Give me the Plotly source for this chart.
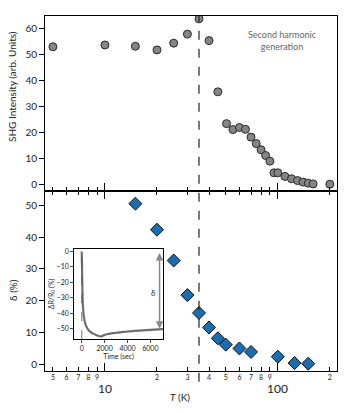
import math
import plotly.graph_objects as go

# top panel: SHG intensity vs temperature
shg_temp = [5, 10, 15, 20, 25, 30, 35, 40, 45, 50.5, 55, 60, 65, 70, 75, 80, 85, 90,
            95, 100, 110, 120, 130, 140, 150, 160, 200]
shg_int = [53.1, 53.8, 53.3, 51.9, 54.5, 58.0, 63.9, 55.5, 35.7, 23.4, 21.1, 21.9, 21.2,
           18.2, 15.7, 13.3, 11.1, 8.9, 4.4, 4.4, 3.0, 2.1, 1.4, 0.8, 0.4, 0.1, 0.0]

# bottom panel: delta vs temperature
delta_temp = [15, 20, 25, 30, 35, 40, 45, 50, 60, 70, 100, 125, 150]
delta_val = [50.5, 42.3, 32.6, 21.7, 16.1, 11.5, 8.1, 6.1, 4.9, 3.8, 2.3, 0.3, 0.1]

# inset: relaxation curve
inset_time = [0, 30, 60, 100, 150, 200, 300, 400, 600, 800, 1000, 1300, 1600, 1750,
              1900, 2200, 2600, 3000, 3500, 4000, 5000, 6000, 7000, 7200]
inset_val = [0, -12, -25, -35, -40, -43, -46.5, -48.5, -51, -52.3, -53.2, -54.2, -54.9,
             -55, -54.3, -53.6, -53, -52.6, -52.2, -51.8, -51.2, -50.7, -50.3, -50.2]

transition_temp = 35
delta_arrow = dict(time=6800, top=0, bottom=-50)

digit_ticks = [5, 6, 7, 8, 9, 20, 30, 40, 50, 60, 70, 80, 90, 200]
digit_text = ["5", "6", "7", "8", "9", "2", "3", "4", "5", "6", "7", "8", "9", "2"]
decade_ticks = [10, 100]

FONT = "Lato"
xrange_log = [math.log10(4.5), math.log10(220)]

fig = go.Figure()
fig.add_trace(go.Scatter(
    x=shg_temp, y=shg_int, mode="markers", xaxis="x", yaxis="y",
    marker=dict(symbol="circle", size=8, color="#858585",
                line=dict(color="#2b2b2b", width=1)),
))
fig.add_trace(go.Scatter(
    x=delta_temp, y=delta_val, mode="markers", xaxis="x2", yaxis="y2",
    marker=dict(symbol="diamond", size=10, color="#1a6db0",
                line=dict(color="#111111", width=1)),
))
fig.add_trace(go.Scatter(
    x=inset_time, y=inset_val, mode="lines", xaxis="x3", yaxis="y3",
    line=dict(color="#6e6e6e", width=2.2, shape="spline"),
))

xcommon = dict(
    type="log", range=xrange_log, tickmode="array", tickvals=digit_ticks,
    ticktext=digit_text, ticks="inside", ticklen=4, tickwidth=1, tickcolor="black",
    minor=dict(tickmode="array", tickvals=decade_ticks, ticks="inside", ticklen=8,
               tickwidth=1, tickcolor="black"),
    showline=True, linecolor="black", linewidth=1, showgrid=False, zeroline=False,
    tickfont=dict(size=7, family=FONT, color="#222"), automargin=False,
)
ycommon = dict(
    ticks="outside", ticklen=5, tickwidth=1, tickcolor="black", showline=True,
    linecolor="black", linewidth=1, mirror=True, showgrid=False, zeroline=False,
    tickfont=dict(size=10, family=FONT, color="#222"), automargin=False,
)

# page body has an 8px margin, so the figure is shrunk by that much
fig.update_layout(
    width=339, height=405, margin=dict(l=37, r=10, t=8, b=42),
    paper_bgcolor="white", plot_bgcolor="white", showlegend=False,
    font=dict(family=FONT, color="#222"),
    xaxis=dict(xcommon, domain=[0, 1], anchor="y", showticklabels=False, mirror=True),
    yaxis=dict(ycommon, domain=[0.508, 1], anchor="x", range=[-2.5, 65],
               tickvals=[0, 10, 20, 30, 40, 50, 60]),
    xaxis2=dict(xcommon, domain=[0, 1], anchor="y2", mirror="ticks"),
    yaxis2=dict(ycommon, domain=[0, 0.508], anchor="x2", range=[-2.2, 54.6],
                tickvals=[0, 10, 20, 30, 40, 50]),
    xaxis3=dict(domain=[0.1, 0.404], anchor="y3", range=[-660, 7100],
                tickvals=[0, 2000, 4000, 6000], ticks="outside", ticklen=3,
                showline=True, mirror=True, linecolor="black", linewidth=1,
                showgrid=False, zeroline=False, automargin=False,
                tickfont=dict(size=7, family=FONT, color="#222"),
                title=dict(text="Time (sec)", font=dict(size=7, family=FONT), standoff=2)),
    yaxis3=dict(domain=[0.09, 0.344], anchor="x3", range=[-56.7, 1.7],
                tickvals=[0, -10, -20, -30, -40, -50], ticks="outside", ticklen=3,
                showline=True, mirror=True, linecolor="black", linewidth=1,
                showgrid=False, zeroline=False, automargin=False,
                tickfont=dict(size=7, family=FONT, color="#222"),
                title=dict(text="ΔR/R<sub>0</sub> (%)", font=dict(size=7, family=FONT),
                           standoff=1)),
)

# dashed transition line across both panels
fig.add_shape(type="line", xref="x", yref="paper", x0=transition_temp,
              x1=transition_temp, y0=-0.03, y1=1,
              line=dict(color="#222", width=1.2, dash="dash"))
# dashed t=0 line in inset
fig.add_shape(type="line", xref="x3", yref="y3 domain", x0=0, x1=0, y0=0, y1=1,
              line=dict(color="#555", width=0.8, dash="dash"))

# inset delta arrow
fig.add_annotation(xref="x3", yref="y3", axref="x3", ayref="y3",
                   x=delta_arrow["time"], y=delta_arrow["bottom"],
                   ax=delta_arrow["time"], ay=delta_arrow["top"], text="",
                   showarrow=True, arrowhead=2, startarrowhead=2, arrowside="end+start",
                   arrowsize=1, arrowwidth=1.5, arrowcolor="#8a8a8a")
fig.add_annotation(xref="x3", yref="y3", x=6300, y=-27, text="δ", showarrow=False,
                   xanchor="center", yanchor="middle",
                   font=dict(size=8, family=FONT, color="#333"))

# decade labels
for d in decade_ticks:
    fig.add_annotation(xref="x2", yref="paper", x=math.log10(d), y=-0.048, text=str(d),
                       showarrow=False, xanchor="center", yanchor="middle",
                       font=dict(size=12, family=FONT, color="#222"))

fig.add_annotation(xref="paper", yref="paper", x=0.462, y=-0.073, text="<i>T</i> (K)",
                   showarrow=False, xanchor="center", yanchor="middle",
                   font=dict(size=10, family=FONT, color="#222"))
fig.add_annotation(xref="paper", yref="paper", x=-0.113, y=0.80, textangle=-90,
                   text="SHG Intensity (arb. Units)", showarrow=False,
                   xanchor="center", yanchor="middle",
                   font=dict(size=10, family=FONT, color="#222"))
fig.add_annotation(xref="paper", yref="paper", x=-0.11, y=0.228, textangle=-90,
                   text="δ (%)", showarrow=False, xanchor="center", yanchor="middle",
                   font=dict(size=10, family=FONT, color="#222"))
fig.add_annotation(xref="paper", yref="paper", x=0.815, y=0.93,
                   text="Second harmonic<br>generation", showarrow=False,
                   xanchor="center", yanchor="middle",
                   font=dict(size=9, family=FONT, color="#666"))

fig.write_html("out.html")
